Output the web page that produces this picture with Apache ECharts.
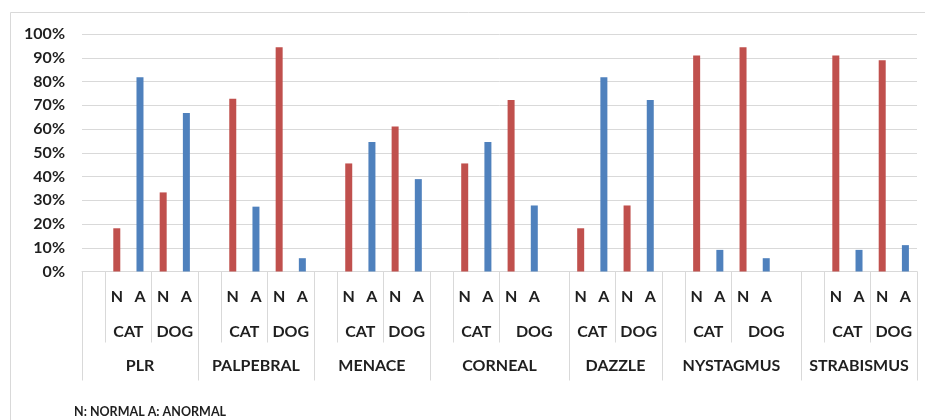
<!DOCTYPE html>
<html>
<head>
<meta charset="utf-8">
<script src="https://cdn.jsdelivr.net/npm/echarts@6/dist/echarts.min.js"></script>
<style>
  html, body { margin: 0; padding: 0; background: #fff; }
  #chart { width: 925px; height: 420px; }
</style>
</head>
<body>
<div id="chart"></div>
<script>
// ---- data (fractions) ----
const groups = ['PLR', 'PALPEBRAL', 'MENACE', 'CORNEAL', 'DAZZLE', 'NYSTAGMUS', 'STRABISMUS'];
const species = ['CAT', 'DOG'];
const results = ['N', 'A'];
const catNormal  = [0.182, 0.727, 0.455, 0.455, 0.182, 0.909, 0.909];
const catAnormal = [0.818, 0.273, 0.545, 0.545, 0.818, 0.091, 0.091];
const dogNormal  = [0.333, 0.944, 0.611, 0.722, 0.278, 0.944, 0.889];
const dogAnormal = [0.667, 0.056, 0.389, 0.278, 0.722, 0.056, 0.111];
// empty category slots in the original spreadsheet layout
const leadingBlank  = [1, 1, 1, 1, 0, 1, 1];
const trailingBlank = [0, 0, 0, 1, 0, 1, 0];
const yTicks = [0, 0.1, 0.2, 0.3, 0.4, 0.5, 0.6, 0.7, 0.8, 0.9, 1.0];
const note = 'N: NORMAL A: ANORMAL';

// ---- build category slots ----
const slotLabels = [], nData = [], aData = [];
const lvl2Ticks = new Set(), lvl3Ticks = new Set();
const lvl2Labels = {}, lvl3Labels = {};
function pushSlot(label, n, a) { slotLabels.push(label); nData.push(n); aData.push(a); }
groups.forEach((g, i) => {
  const start = slotLabels.length;
  lvl3Ticks.add(2 * start);
  if (leadingBlank[i]) { pushSlot('', null, null); lvl2Ticks.add(2 * slotLabels.length); }
  const catStart = slotLabels.length;
  pushSlot(results[0], catNormal[i], null);
  pushSlot(results[1], null, catAnormal[i]);
  lvl2Labels[2 * catStart + 2] = species[0];
  const dogStart = slotLabels.length;
  lvl2Ticks.add(2 * dogStart);
  pushSlot(results[0], dogNormal[i], null);
  pushSlot(results[1], null, dogAnormal[i]);
  for (let k = 0; k < trailingBlank[i]; k++) pushSlot('', null, null);
  lvl2Labels[2 * dogStart + (slotLabels.length - dogStart)] = species[1];
  const end = slotLabels.length;
  lvl3Labels[start + end] = g;
});
lvl3Ticks.add(2 * slotLabels.length);
const halfCount = 2 * slotLabels.length + 1;
const halfIdx = Array.from({ length: halfCount }, (_, i) => String(i));

const FONT = 'Lato';
const TXT = '#1f1f1f';
const labelBase = { fontFamily: FONT, fontWeight: 'bold', fontSize: 16, color: TXT };

function helperAxis(labels, ticks, margin, tickLen) {
  return {
    type: 'category', position: 'bottom', gridIndex: 0, data: halfIdx,
    boundaryGap: false,
    axisLine: { show: false },
    axisTick: { show: true, length: tickLen, interval: (idx) => ticks.has(idx),
                lineStyle: { color: '#D9D9D9', width: 1 } },
    axisLabel: Object.assign({}, labelBase, {
      interval: 0, margin: margin,
      formatter: (v) => labels[Number(v)] || ''
    }),
    splitLine: { show: false }
  };
}

const chart = echarts.init(document.getElementById('chart'), null, { renderer: 'canvas' });
chart.setOption({
  animation: false,
  backgroundColor: '#fff',
  grid: { left: 82, right: 8, top: 34, bottom: 148.5, containLabel: false },
  xAxis: [
    {
      type: 'category', position: 'bottom', data: slotLabels,
      axisLine: { show: true, lineStyle: { color: '#D9D9D9', width: 1 } },
      axisTick: { show: false },
      axisLabel: Object.assign({}, labelBase, { interval: 0, margin: 17 })
    },
    helperAxis(lvl2Labels, lvl2Ticks, 52, 71),
    helperAxis(lvl3Labels, lvl3Ticks, 86, 109)
  ],
  yAxis: {
    type: 'value', min: yTicks[0], max: yTicks[yTicks.length - 1], interval: 0.1,
    axisLine: { show: false }, axisTick: { show: false },
    splitLine: { lineStyle: { color: '#D9D9D9', width: 1 } },
    axisLabel: Object.assign({}, labelBase, {
      margin: 17,
      formatter: (v) => Math.round(v * 100) + '%'
    })
  },
  series: [
    { name: 'N', type: 'bar', data: nData, barWidth: 7, barGap: '-100%',
      itemStyle: { color: '#C0504D' } },
    { name: 'A', type: 'bar', data: aData, barWidth: 7, barGap: '-100%',
      itemStyle: { color: '#4F81BD' } }
  ],
  graphic: [
    { type: 'rect', shape: { x: 10.5, y: 12.5, width: 940, height: 440 },
      style: { fill: 'none', stroke: '#D9D9D9', lineWidth: 1 }, silent: true },
    { type: 'text', left: 74, top: 405,
      style: { text: note, fontFamily: FONT, fontWeight: 'bold', fontSize: 12.5, fill: TXT } }
  ]
});
</script>
</body>
</html>
